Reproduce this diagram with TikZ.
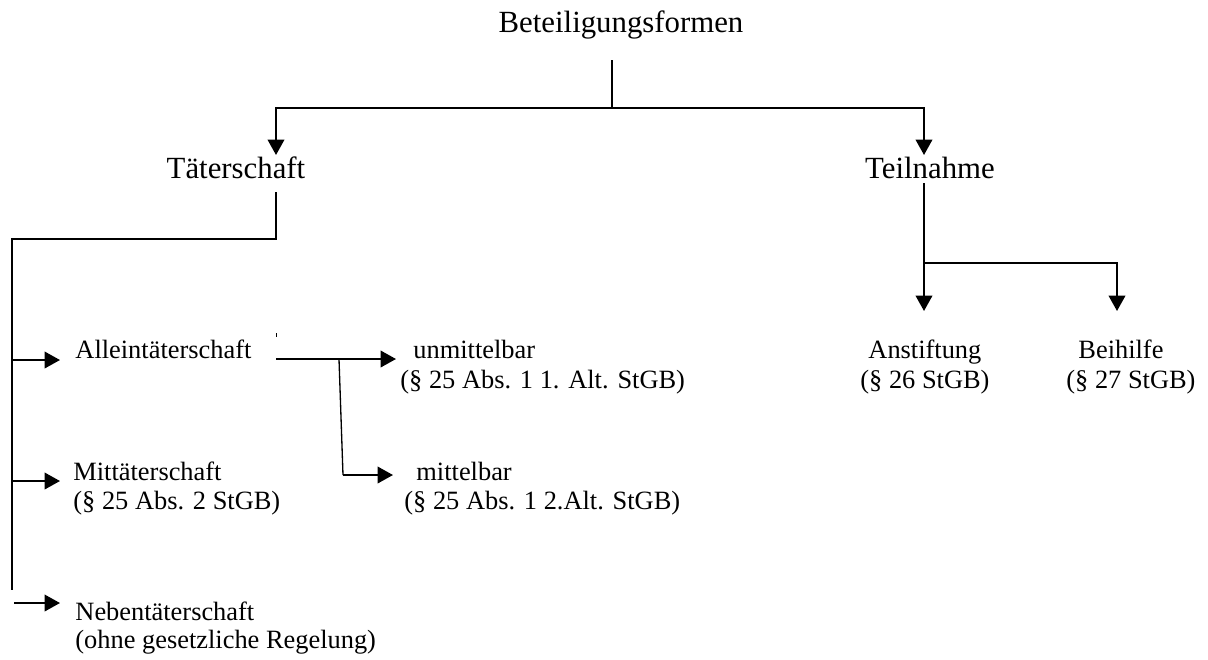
\documentclass[tikz,border=0pt]{standalone}
\usepackage{fontspec}
\setmainfont{Liberation Serif}
\usetikzlibrary{arrows.meta}
\begin{document}
\begin{tikzpicture}[x=0.454545pt,y=-0.454545pt,
  big/.style={font=\fontsize{14pt}{16pt}\selectfont, inner sep=0pt},
  small/.style={font=\fontsize{12pt}{14pt}\selectfont, inner sep=0pt},
  conn/.style={line width=1pt},
  arr/.style={conn,-{Triangle[length=7pt,width=7.5pt]}},
  thinline/.style={line width=0.6pt}]
\useasboundingbox (0,0) rectangle (1208,659);

% texts
\node[big, anchor=base] (title) at (621,32) {Beteiligungsformen};
\node[big, anchor=base] (taeter) at (236,178) {Täterschaft};
\node[big, anchor=base] (teiln) at (930,178) {Teilnahme};

\node[small, anchor=base west] (allein) at (75,358) {Alleintäterschaft};
\node[small, anchor=base west] (unm) at (413,358) {unmittelbar};
\node[small, anchor=base west] (unmref) at (400,388) {(§ 25 Abs. 1 1. Alt. StGB)};

\node[small, anchor=base west] (mitt) at (73,480) {Mittäterschaft};
\node[small, anchor=base west] (mittref) at (73,509) {(§ 25 Abs. 2 StGB)};
\node[small, anchor=base west] (mittelb) at (416,480) {mittelbar};
\node[small, anchor=base west] (mittelbref) at (404,509) {(§ 25 Abs. 1 2.Alt. StGB)};

\node[small, anchor=base west] (neben) at (75,620) {Nebentäterschaft};
\node[small, anchor=base west] (nebenref) at (75,648) {(ohne gesetzliche Regelung)};

\node[small, anchor=base west] (anst) at (868,358) {Anstiftung};
\node[small, anchor=base west] (anstref) at (860,388) {(§ 26 StGB)};
\node[small, anchor=base west] (beih) at (1078,358) {Beihilfe};
\node[small, anchor=base west] (beihref) at (1066,388) {(§ 27 StGB)};

% junction coordinates
\coordinate (t0) at (612,60);
\coordinate (t1) at (612,108);
\coordinate (ta) at (276,155);
\coordinate (tb) at (924,155);

\coordinate (ts) at (276,192);
\coordinate (lv) at (12,239);
\coordinate (lb) at (12,590);
\coordinate (l1) at (12,360);
\coordinate (l1e) at (60,360);
\coordinate (l2) at (12,481);
\coordinate (l2e) at (60,481);
\coordinate (l3) at (14,603);
\coordinate (l3e) at (60,603);

\coordinate (a0) at (276,359);
\coordinate (a1) at (339,359);
\coordinate (a1e) at (396,359);
\coordinate (a2) at (343,475);
\coordinate (a2e) at (393,475);

\coordinate (p0) at (924,183);
\coordinate (p1) at (924,263);
\coordinate (p1e) at (924,311);
\coordinate (p2e) at (1117,311);

% connectors
\draw[conn] (t0) -- (t1);
\draw[arr] (t1) -| (ta);
\draw[arr] (t1) -| (tb);

\draw[conn] (ts) |- (lv) -- (lb);
\draw[arr] (l1) -- (l1e);
\draw[arr] (l2) -- (l2e);
\draw[arr] (l3) -- (l3e);

\draw[arr] (a0) -- (a1e);
\draw[thinline] (a1) -- (a2);
\draw[arr] (a2) -- (a2e);
\draw[line width=0.4pt] (276,333) -- (276,337);

\draw[arr] (p0) -- (p1e);
\draw[arr] (p1) -| (p2e);
\end{tikzpicture}
\end{document}
